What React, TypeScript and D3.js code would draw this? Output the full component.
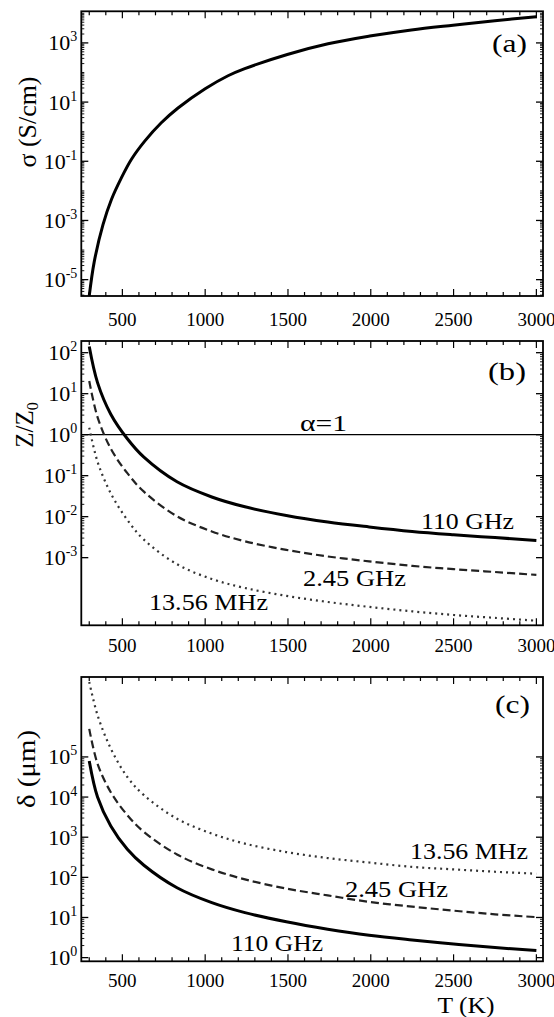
import { useEffect, useRef } from 'react';
import * as d3 from 'd3';

const WIDTH = 554;
const HEIGHT = 1017;

// (a) conductivity vs temperature
const sigmaT = [300, 330, 383, 434, 494, 554, 635, 735, 836, 1000, 1138, 1239, 1496, 1742, 1994, 2245, 2497, 2749, 3000];
const sigma = [2.82e-6, 3.98e-5, 7.24e-4, 5.13e-3, 0.0275, 0.115, 0.479, 2.0, 6.31, 28.2, 77.6, 135, 407, 933, 1700, 2750, 3980, 5620, 7590];

// temperature grid used for panels (b) and (c)
const temps = [300, 350, 430, 530, 630, 830, 1040, 1240, 1490, 1740, 1990, 2250, 2500, 2750, 3000];

// (b) Z/Z0
const z110GHz = [141, 18.6, 3.16, 0.794, 0.282, 0.0708, 0.0302, 0.0174, 0.0107, 0.00741, 0.00562, 0.00437, 0.00363, 0.00309, 0.00263];
const z245GHz = [20.4, 2.69, 0.457, 0.115, 0.0407, 0.0102, 0.00437, 0.00251, 0.00155, 0.00107, 0.000813, 0.000631, 0.000525, 0.000447, 0.00038];
const z1356MHz = [1.48, 0.219, 0.0372, 0.00832, 0.00275, 0.000692, 0.000302, 0.000182, 0.000117, 8.3e-5, 6.3e-5, 4.9e-5, 4.0e-5, 3.4e-5, 2.9e-5];

// (c) skin depth in um
const d110GHz = [79400, 10000, 1900, 500, 200, 55, 23.4, 13.2, 7.8, 5.1, 3.6, 2.75, 2.19, 1.78, 1.51];
const d245GHz = [501000, 67600, 13200, 3550, 1350, 372, 158, 89, 52.5, 35.5, 24.5, 18.6, 14.8, 12.0, 10.2];
const d1356MHz = [7.4e6, 1.1e6, 162000, 31600, 11200, 2880, 1230, 692, 427, 302, 234, 182, 158, 138, 123];

// tick labels
const xTickLabels = [500, 1000, 1500, 2000, 2500, 3000];
const sigmaExps = [3, 1, -1, -3, -5];
const zExps = [2, 1, 0, -1, -2, -3];
const deltaExps = [5, 4, 3, 2, 1, 0];

const FONT = '"Liberation Serif", "Times New Roman", Times, serif';
const LEFT = 81.3;
const RIGHT = 543;

const panels = [
    {
        top: 11.3,
        bottom: 296,
        domain: [2.8e-6, 1.17e4],
        minorRange: [1e-6, 1e5],
        exps: sigmaExps,
        tickBase: 326,
        title: { parts: [['σ (S/cm)', 0]], x: 36, y: 122, len: 91 },
        tag: { text: '(a)', x: 492, y: 52, len: 35, size: 26 },
        series: [{ t: sigmaT, v: sigma, kind: 'solid' }],
        labels: []
    },
    {
        top: 341,
        bottom: 625.3,
        domain: [2.24e-5, 192.8],
        minorRange: [1e-3, 1e3],
        exps: zExps,
        tickBase: 652,
        title: { parts: [['Z/Z', 0], ['0', 1]], x: 33, y: 425, len: 0 },
        tag: { text: '(b)', x: 488, y: 380, len: 38, size: 26 },
        hline: 1,
        series: [
            { t: temps, v: z110GHz, kind: 'solid' },
            { t: temps, v: z245GHz, kind: 'dashed' },
            { t: temps, v: z1356MHz, kind: 'dotted' }
        ],
        labels: [
            { text: 'α=1', x: 300, y: 431, len: 47 },
            { text: '110 GHz', x: 421, y: 529, len: 93 },
            { text: '2.45 GHz', x: 303, y: 586, len: 103 },
            { text: '13.56 MHz', x: 149, y: 610, len: 119 }
        ]
    },
    {
        top: 677,
        bottom: 961.3,
        domain: [0.81, 9.8e6],
        minorRange: [1, 1e5],
        exps: deltaExps,
        tickBase: 987,
        title: { parts: [['δ (μm)', 0]], x: 35, y: 769, len: 78 },
        tag: { text: '(c)', x: 495, y: 713, len: 35, size: 26 },
        series: [
            { t: temps, v: d110GHz, kind: 'solid' },
            { t: temps, v: d245GHz, kind: 'dashed' },
            { t: temps, v: d1356MHz, kind: 'dotted' }
        ],
        labels: [
            { text: '13.56 MHz', x: 410, y: 859, len: 118 },
            { text: '2.45 GHz', x: 345, y: 897, len: 103 },
            { text: '110 GHz', x: 231, y: 951, len: 92 }
        ]
    }
];

const styles = {
    solid: { width: 3, dash: null, color: '#000' },
    dashed: { width: 2.2, dash: '8 4', color: '#222' },
    dotted: { width: 2.2, dash: '2 4', color: '#333' }
};

function addText(g, x, y, size, txt) {
    return g.append('text').attr('x', x).attr('y', y).attr('font-size', size)
        .style('font-family', FONT).text(txt);
}

function drawPanel(svg, x, p) {
    const g = svg.append('g');
    const y = d3.scaleLog().domain(p.domain).range([p.bottom, p.top]);

    // x ticks, top and bottom, every 100 K
    d3.range(300, 3001, 100).forEach((t) => {
        const len = t % 500 === 0 ? 7 : 4;
        g.append('line').attr('x1', x(t)).attr('x2', x(t)).attr('y1', p.bottom).attr('y2', p.bottom - len)
            .attr('stroke', '#000').attr('stroke-width', 1.2);
        g.append('line').attr('x1', x(t)).attr('x2', x(t)).attr('y1', p.top).attr('y2', p.top + len)
            .attr('stroke', '#000').attr('stroke-width', 1.2);
    });

    // y ticks, log minor ticks inside minorRange
    const lo = Math.floor(Math.log10(p.domain[0]));
    const hi = Math.ceil(Math.log10(p.domain[1]));
    for (let e = lo; e <= hi; e++) {
        for (let k = 1; k <= 9; k++) {
            const v = k * Math.pow(10, e);
            if (v < p.domain[0] || v > p.domain[1]) continue;
            if (v < p.minorRange[0] * 0.999 || v > p.minorRange[1] * 1.001) continue;
            const major = k === 1 && p.exps.includes(e);
            const len = major ? 7 : 3;
            const yy = y(v);
            g.append('line').attr('x1', LEFT).attr('x2', LEFT + len).attr('y1', yy).attr('y2', yy)
                .attr('stroke', '#000').attr('stroke-width', major ? 1.3 : 0.9);
            g.append('line').attr('x1', RIGHT).attr('x2', RIGHT - len).attr('y1', yy).attr('y2', yy)
                .attr('stroke', '#000').attr('stroke-width', major ? 1.3 : 0.9);
        }
    }

    // y tick labels
    p.exps.forEach((e) => {
        const lab = addText(g, LEFT - 4, y(Math.pow(10, e)) + 7.5, 22, null).attr('text-anchor', 'end');
        lab.append('tspan').text('10');
        lab.append('tspan').attr('dy', -9).attr('font-size', 14).text(String(e));
    });

    // x tick labels
    xTickLabels.forEach((t) => {
        addText(g, x(t), p.tickBase, 19, t).attr('text-anchor', 'middle');
    });

    // alpha = 1 reference line
    if (p.hline) {
        g.append('line').attr('x1', LEFT).attr('x2', RIGHT).attr('y1', y(p.hline)).attr('y2', y(p.hline))
            .attr('stroke', '#000').attr('stroke-width', 1.3);
    }

    const line = d3.line()
        .x((d) => x(d[0]))
        .y((d) => y(d[1]))
        .curve(d3.curveCatmullRom.alpha(0.5));

    p.series.forEach((s) => {
        const st = styles[s.kind];
        g.append('path')
            .datum(s.t.map((t, i) => [t, s.v[i]]))
            .attr('d', line)
            .attr('fill', 'none')
            .attr('stroke', st.color)
            .attr('stroke-width', st.width)
            .attr('stroke-dasharray', st.dash);
    });

    // frame
    g.append('rect').attr('x', LEFT).attr('y', p.top).attr('width', RIGHT - LEFT).attr('height', p.bottom - p.top)
        .attr('fill', 'none').attr('stroke', '#000').attr('stroke-width', 1.8);

    p.labels.forEach((l) => {
        addText(g, l.x, l.y, 24, l.text).attr('textLength', l.len).attr('lengthAdjust', 'spacingAndGlyphs');
    });

    addText(g, p.tag.x, p.tag.y, p.tag.size, p.tag.text)
        .attr('textLength', p.tag.len).attr('lengthAdjust', 'spacingAndGlyphs');

    // rotated y title
    const title = g.append('text')
        .attr('transform', `translate(${p.title.x},${p.title.y}) rotate(-90)`)
        .attr('text-anchor', 'middle')
        .attr('font-size', 25)
        .style('font-family', FONT);
    if (p.title.len) title.attr('textLength', p.title.len).attr('lengthAdjust', 'spacingAndGlyphs');
    p.title.parts.forEach(([txt, sub]) => {
        const ts = title.append('tspan').text(txt);
        if (sub) ts.attr('dy', 5).attr('font-size', 16);
    });
}

export default function App() {
    const ref = useRef(null);

    useEffect(() => {
        const svg = d3.select(ref.current);
        svg.selectAll('*').remove();

        const x = d3.scaleLinear().domain([252, 3040]).range([LEFT, RIGHT]);
        panels.forEach((p) => drawPanel(svg, x, p));

        addText(svg, 466, 1013, 24, 'T (K)').attr('text-anchor', 'middle')
            .attr('textLength', 57).attr('lengthAdjust', 'spacingAndGlyphs');
    }, []);

    return (
        <svg
            ref={ref}
            width={WIDTH}
            height={HEIGHT}
            style={{ position: 'absolute', left: 0, top: 0, background: '#fff', fontFamily: FONT }}
        />
    );
}
